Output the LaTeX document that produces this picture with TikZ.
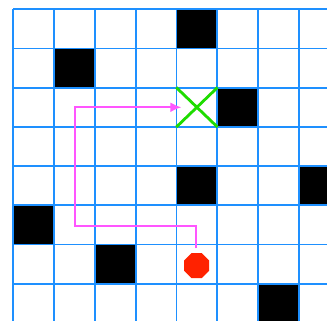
\documentclass[tikz,border=0pt]{standalone}
\usetikzlibrary{positioning,calc,arrows.meta,shapes.geometric}
\definecolor{gridblue}{RGB}{30,144,255}
\definecolor{routepink}{RGB}{255,85,255}
\definecolor{goalgreen}{RGB}{30,220,0}
\definecolor{startred}{RGB}{255,34,0}
\tikzset{gridline/.style={draw=gridblue,line width=1.6pt}}
\tikzset{wall/.style={fill=black}}
\tikzset{startvert/.style={regular polygon,regular polygon sides=8,fill=startred,minimum size=0.81cm,inner sep=0pt}}
\tikzset{goalcell/.style={minimum width=1.224cm,minimum height=1.176cm,inner sep=0pt}}
\tikzset{route/.style={draw=routepink,line width=1.5pt,-{Latex[length=3.3mm,width=3mm]}}}

\begin{document}
\begin{tikzpicture}[x={(1.224cm,0)},y={(0,-1.176cm)}]
	\useasboundingbox (-0.326,-0.237) rectangle (7.689,7.952);
	\clip (-0.326,-0.237) rectangle (7.689,7.952);

		% blocked cells
		\foreach \c/\r in {4/0,1/1,5/2,4/4,7/4,0/5,2/6,6/7}
			\fill[wall] (\c,\r) rectangle ++(1,1);

		% grid
		\foreach \i in {0,...,8}{
			\draw[gridline] (\i,0) -- (\i,8.5);
			\draw[gridline] (0,\i) -- (8.5,\i);
		}

		\node[startvert] (start) at (4.495,6.54) {};
		\node[goalcell] (goal) at (4.5,2.5) {};
		\draw[goalgreen,line width=2.4pt] (goal.north west) -- (goal.south east) (goal.south west) -- (goal.north east);

		\coordinate (p0) at (4.47,6.1);
		\coordinate (p1) at (4.47,5.53);
		\coordinate (p2) at (1.51,5.53);
		\coordinate (p3) at (1.51,2.5);
		\draw[route] (p0) -- (p1) -- (p2) -- (p3) -- ([xshift=0.15cm]goal.west);
	\end{tikzpicture}
\end{document}
